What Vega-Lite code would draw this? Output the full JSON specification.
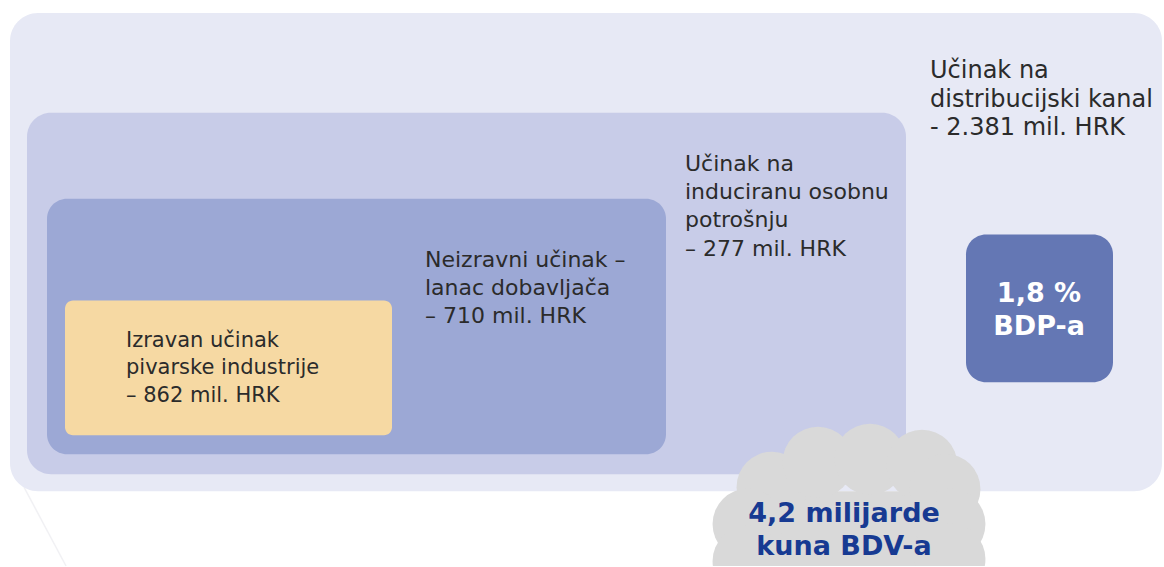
{
  "$schema": "https://vega.github.io/schema/vega-lite/v6.json",
  "width": 1164,
  "height": 567,
  "padding": 0,
  "autosize": {"type": "fit", "contains": "padding"},
  "background": "#ffffff",
  "config": {"view": {"stroke": null}},
  "datasets": {
    "boxes": [
      {"box": "distribution", "x0": 10, "x1": 1162, "y0": 13, "y1": 492},
      {"box": "induced", "x0": 27, "x1": 906, "y0": 113, "y1": 475},
      {"box": "indirect", "x0": 47, "x1": 666, "y0": 199, "y1": 455},
      {"box": "direct", "x0": 65, "x1": 392, "y0": 301, "y1": 436},
      {"box": "gdp", "x0": 966, "x1": 1113, "y0": 235, "y1": 383}
    ],
    "edge": [
      {"x0": 24, "y0": 488, "x1": 66, "y1": 567}
    ],
    "cloudcore": [
      {"x0": 750, "x1": 960, "y0": 492, "y1": 567}
    ],
    "bumps": [
      {"x": 772, "y": 488}, {"x": 818, "y": 463}, {"x": 870, "y": 460}, {"x": 922, "y": 466},
      {"x": 945, "y": 490}, {"x": 950, "y": 525}, {"x": 748, "y": 525}, {"x": 950, "y": 560},
      {"x": 748, "y": 562}
    ],
    "labels": [
      {"kind": "large", "x": 930, "y": 71, "text": "Učinak na"},
      {"kind": "large", "x": 930, "y": 100, "text": "distribucijski kanal"},
      {"kind": "large", "x": 930, "y": 128, "text": "- 2.381 mil. HRK"},
      {"kind": "label", "x": 685, "y": 164, "text": "Učinak na"},
      {"kind": "label", "x": 685, "y": 192, "text": "induciranu osobnu"},
      {"kind": "label", "x": 685, "y": 220, "text": "potrošnju"},
      {"kind": "label", "x": 685, "y": 249, "text": "– 277 mil. HRK"},
      {"kind": "label", "x": 425, "y": 260, "text": "Neizravni učinak –"},
      {"kind": "label", "x": 425, "y": 289, "text": "lanac dobavljača"},
      {"kind": "label", "x": 425, "y": 317, "text": "– 710 mil. HRK"},
      {"kind": "small", "x": 126, "y": 342, "text": "Izravan učinak"},
      {"kind": "small", "x": 126, "y": 369, "text": "pivarske industrije"},
      {"kind": "small", "x": 126, "y": 397, "text": "– 862 mil. HRK"},
      {"kind": "gdp", "x": 1039, "y": 295, "text": "1,8 %"},
      {"kind": "gdp", "x": 1039, "y": 328, "text": "BDP-a"},
      {"kind": "gva", "x": 844, "y": 515, "text": "4,2 milijarde"},
      {"kind": "gva", "x": 844, "y": 548, "text": "kuna BDV-a"}
    ]
  },
  "layer": [
    {
      "data": {"name": "edge"},
      "mark": {"type": "rule", "color": "#F1F1F4", "strokeWidth": 1.5},
      "encoding": {
        "x": {"field": "x0", "type": "quantitative", "scale": {"domain": [0, 1164], "nice": false, "zero": false}, "axis": null},
        "x2": {"field": "x1"},
        "y": {"field": "y0", "type": "quantitative", "scale": {"domain": [0, 567], "nice": false, "zero": false, "reverse": true}, "axis": null},
        "y2": {"field": "y1"}
      }
    },
    {
      "data": {"name": "boxes"},
      "transform": [{"filter": "datum.box === 'distribution'"}],
      "mark": {"type": "rect", "cornerRadius": 28, "color": "#E7E9F5"},
      "encoding": {
        "x": {"field": "x0", "type": "quantitative", "scale": {"domain": [0, 1164], "nice": false, "zero": false}, "axis": null},
        "x2": {"field": "x1"},
        "y": {"field": "y0", "type": "quantitative", "scale": {"domain": [0, 567], "nice": false, "zero": false, "reverse": true}, "axis": null},
        "y2": {"field": "y1"}
      }
    },
    {
      "data": {"name": "boxes"},
      "transform": [{"filter": "datum.box === 'induced'"}],
      "mark": {"type": "rect", "cornerRadius": 24, "color": "#C8CCE8"},
      "encoding": {
        "x": {"field": "x0", "type": "quantitative", "scale": {"domain": [0, 1164], "nice": false, "zero": false}, "axis": null},
        "x2": {"field": "x1"},
        "y": {"field": "y0", "type": "quantitative", "scale": {"domain": [0, 567], "nice": false, "zero": false, "reverse": true}, "axis": null},
        "y2": {"field": "y1"}
      }
    },
    {
      "data": {"name": "boxes"},
      "transform": [{"filter": "datum.box === 'indirect'"}],
      "mark": {"type": "rect", "cornerRadius": 20, "color": "#9CA8D5"},
      "encoding": {
        "x": {"field": "x0", "type": "quantitative", "scale": {"domain": [0, 1164], "nice": false, "zero": false}, "axis": null},
        "x2": {"field": "x1"},
        "y": {"field": "y0", "type": "quantitative", "scale": {"domain": [0, 567], "nice": false, "zero": false, "reverse": true}, "axis": null},
        "y2": {"field": "y1"}
      }
    },
    {
      "data": {"name": "boxes"},
      "transform": [{"filter": "datum.box === 'direct'"}],
      "mark": {"type": "rect", "cornerRadius": 8, "color": "#F6D9A3"},
      "encoding": {
        "x": {"field": "x0", "type": "quantitative", "scale": {"domain": [0, 1164], "nice": false, "zero": false}, "axis": null},
        "x2": {"field": "x1"},
        "y": {"field": "y0", "type": "quantitative", "scale": {"domain": [0, 567], "nice": false, "zero": false, "reverse": true}, "axis": null},
        "y2": {"field": "y1"}
      }
    },
    {
      "data": {"name": "boxes"},
      "transform": [{"filter": "datum.box === 'gdp'"}],
      "mark": {"type": "rect", "cornerRadius": 20, "color": "#6477B4"},
      "encoding": {
        "x": {"field": "x0", "type": "quantitative", "scale": {"domain": [0, 1164], "nice": false, "zero": false}, "axis": null},
        "x2": {"field": "x1"},
        "y": {"field": "y0", "type": "quantitative", "scale": {"domain": [0, 567], "nice": false, "zero": false, "reverse": true}, "axis": null},
        "y2": {"field": "y1"}
      }
    },
    {
      "data": {"name": "cloudcore"},
      "mark": {"type": "rect", "cornerRadius": 0, "color": "#D9D9D9"},
      "encoding": {
        "x": {"field": "x0", "type": "quantitative", "scale": {"domain": [0, 1164], "nice": false, "zero": false}, "axis": null},
        "x2": {"field": "x1"},
        "y": {"field": "y0", "type": "quantitative", "scale": {"domain": [0, 567], "nice": false, "zero": false, "reverse": true}, "axis": null},
        "y2": {"field": "y1"}
      }
    },
    {
      "data": {"name": "bumps"},
      "mark": {"type": "circle", "size": 5027, "color": "#D9D9D9", "opacity": 1, "clip": true},
      "encoding": {
        "x": {"field": "x", "type": "quantitative", "scale": {"domain": [0, 1164], "nice": false, "zero": false}, "axis": null},
        "y": {"field": "y", "type": "quantitative", "scale": {"domain": [0, 567], "nice": false, "zero": false, "reverse": true}, "axis": null}
      }
    },
    {
      "data": {"name": "labels"},
      "transform": [{"filter": "datum.kind === 'large'"}],
      "mark": {"type": "text", "align": "left", "baseline": "middle", "font": "DejaVu Sans", "fontSize": 24, "color": "#2B2B2B"},
      "encoding": {
        "x": {"field": "x", "type": "quantitative", "scale": {"domain": [0, 1164], "nice": false, "zero": false}, "axis": null},
        "y": {"field": "y", "type": "quantitative", "scale": {"domain": [0, 567], "nice": false, "zero": false, "reverse": true}, "axis": null},
        "text": {"field": "text"}
      }
    },
    {
      "data": {"name": "labels"},
      "transform": [{"filter": "datum.kind === 'label'"}],
      "mark": {"type": "text", "align": "left", "baseline": "middle", "font": "DejaVu Sans", "fontSize": 22, "color": "#2B2B2B"},
      "encoding": {
        "x": {"field": "x", "type": "quantitative", "scale": {"domain": [0, 1164], "nice": false, "zero": false}, "axis": null},
        "y": {"field": "y", "type": "quantitative", "scale": {"domain": [0, 567], "nice": false, "zero": false, "reverse": true}, "axis": null},
        "text": {"field": "text"}
      }
    },
    {
      "data": {"name": "labels"},
      "transform": [{"filter": "datum.kind === 'small'"}],
      "mark": {"type": "text", "align": "left", "baseline": "middle", "font": "DejaVu Sans", "fontSize": 21, "color": "#2B2B2B"},
      "encoding": {
        "x": {"field": "x", "type": "quantitative", "scale": {"domain": [0, 1164], "nice": false, "zero": false}, "axis": null},
        "y": {"field": "y", "type": "quantitative", "scale": {"domain": [0, 567], "nice": false, "zero": false, "reverse": true}, "axis": null},
        "text": {"field": "text"}
      }
    },
    {
      "data": {"name": "labels"},
      "transform": [{"filter": "datum.kind === 'gdp'"}],
      "mark": {"type": "text", "align": "center", "baseline": "middle", "font": "DejaVu Sans", "fontWeight": "bold", "fontSize": 27, "color": "#FFFFFF"},
      "encoding": {
        "x": {"field": "x", "type": "quantitative", "scale": {"domain": [0, 1164], "nice": false, "zero": false}, "axis": null},
        "y": {"field": "y", "type": "quantitative", "scale": {"domain": [0, 567], "nice": false, "zero": false, "reverse": true}, "axis": null},
        "text": {"field": "text"}
      }
    },
    {
      "data": {"name": "labels"},
      "transform": [{"filter": "datum.kind === 'gva'"}],
      "mark": {"type": "text", "align": "center", "baseline": "middle", "font": "DejaVu Sans", "fontWeight": "bold", "fontSize": 27, "color": "#173A92"},
      "encoding": {
        "x": {"field": "x", "type": "quantitative", "scale": {"domain": [0, 1164], "nice": false, "zero": false}, "axis": null},
        "y": {"field": "y", "type": "quantitative", "scale": {"domain": [0, 567], "nice": false, "zero": false, "reverse": true}, "axis": null},
        "text": {"field": "text"}
      }
    }
  ]
}
